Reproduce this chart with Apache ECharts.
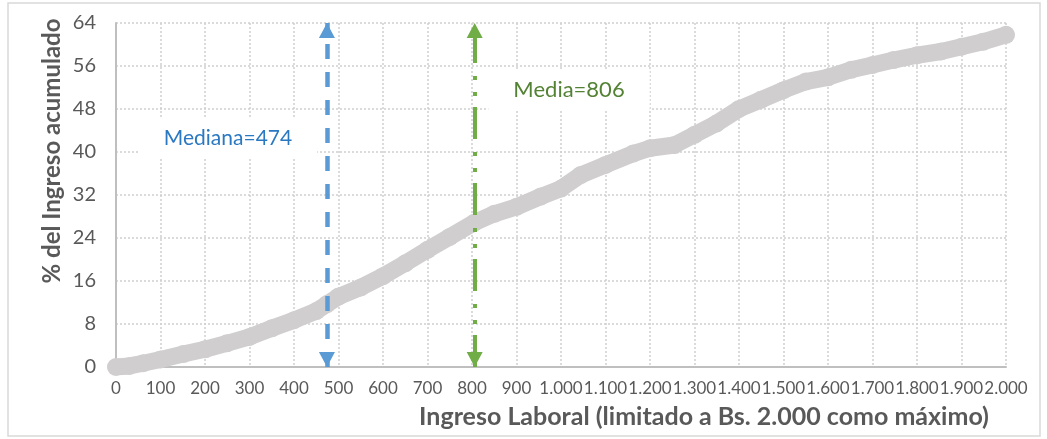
<!DOCTYPE html>
<html>
<head>
<meta charset="utf-8">
<script src="https://cdn.jsdelivr.net/npm/echarts@6/dist/echarts.min.js"></script>
<style>
html, body { margin: 0; padding: 0; background: #fff; }
#main { width: 1047px; height: 439px; }
</style>
</head>
<body>
<div id="main"></div>
<script>
// ingreso laboral (Bs.) y % del ingreso acumulado
var ingreso = [0, 30, 61, 100, 151, 200, 249, 300, 350, 400, 450, 474, 500, 550, 600, 650, 700, 750, 806, 850, 900, 954, 1000, 1044, 1100, 1162, 1200, 1255, 1300, 1349, 1400, 1449, 1500, 1550, 1600, 1652, 1700, 1747, 1800, 1854, 1900, 1948, 2000];
var porcentaje = [0, 0.2, 0.7, 1.4, 2.4, 3.3, 4.4, 5.6, 7.2, 8.7, 10.4, 11.7, 13.1, 14.8, 16.9, 19.3, 21.8, 24.2, 26.9, 28.5, 29.8, 31.7, 33.2, 35.7, 37.6, 39.7, 40.7, 41.3, 43.2, 45.3, 48.0, 49.7, 51.5, 53.1, 53.9, 55.3, 56.2, 57.1, 58.0, 58.7, 59.6, 60.5, 61.8];
var mediana = 474;
var media = 806;
var yMax = 64;

var puntos = ingreso.map(function (x, i) { return [x, porcentaje[i]]; });

function fmtMiles(v) {
  if (v < 1000) return String(v);
  var m = Math.floor(v / 1000);
  var r = String(v % 1000);
  while (r.length < 3) r = '0' + r;
  return m + '.' + r;
}

// punta de flecha: la mitad exterior del simbolo queda vacia para que la punta caiga en el extremo
var punta = 'path://M8,0L8.01,0L8,0.01Z M8,15L16,30L0,30Z';

var chart = echarts.init(document.getElementById('main'));
var fuente = 'Lato';
var gris = '#595959';

var option = {
  backgroundColor: '#fff',
  animation: false,
  grid: { left: 116, right: 41, top: 23, bottom: 72 },
  xAxis: {
    type: 'value',
    min: 0,
    max: 2000,
    interval: 100,
    axisLine: { show: true, lineStyle: { color: '#bfbfbf', width: 2 } },
    axisTick: { show: false },
    axisLabel: {
      color: gris, fontFamily: fuente, fontSize: 17, margin: 13,
      formatter: fmtMiles
    },
    splitLine: { show: true, lineStyle: { color: '#d0d0d0', width: 1.5, type: [2, 2] } }
  },
  yAxis: {
    type: 'value',
    min: 0,
    max: yMax,
    interval: 8,
    axisLine: { show: true, lineStyle: { color: '#bfbfbf', width: 2 } },
    axisTick: { show: false },
    axisLabel: { color: gris, fontFamily: fuente, fontSize: 20, margin: 20 },
    splitLine: { show: true, lineStyle: { color: '#d0d0d0', width: 1.5, type: [2, 2] } }
  },
  graphic: [
    {
      type: 'rect', z: -10, silent: true,
      shape: { x: 8, y: 3, width: 1032, height: 433 },
      style: { fill: 'none', stroke: '#d9d9d9', lineWidth: 1.5 }
    },
    {
      type: 'text', x: 52, y: 151, rotation: Math.PI / 2,
      style: {
        text: '% del Ingreso acumulado', fill: gris, font: 'bold 24px Lato',
        textAlign: 'center', textVerticalAlign: 'middle'
      }
    },
    {
      type: 'text', x: 704, y: 417,
      style: {
        text: 'Ingreso Laboral (limitado a Bs. 2.000 como máximo)', fill: gris,
        font: 'bold 25px Lato', textAlign: 'center', textVerticalAlign: 'middle'
      }
    },
    {
      type: 'text', x: 228, y: 138, z: 5,
      style: {
        text: 'Mediana=474', fill: '#2a78c2', font: '21px Lato',
        textAlign: 'center', textVerticalAlign: 'middle',
        backgroundColor: '#fff', padding: [10, 25]
      }
    },
    {
      type: 'text', x: 569, y: 90, z: 5,
      style: {
        text: 'Media=806', fill: '#548235', font: '22px Lato',
        textAlign: 'center', textVerticalAlign: 'middle',
        backgroundColor: '#fff', padding: [10, 25]
      }
    }
  ],
  series: [
    {
      type: 'line',
      data: puntos,
      z: 3,
      smooth: false,
      showAllSymbol: true,
      symbol: 'circle',
      symbolSize: 18,
      itemStyle: { color: '#d0cece' },
      lineStyle: { color: '#d0cece', width: 17, cap: 'round', join: 'round' },
      markLine: {
        silent: true,
        z: 6,
        symbol: [punta, punta],
        symbolSize: [16, 30],
        label: { show: false },
        data: [
          [
            { coord: [mediana, 0], lineStyle: { color: '#5b9bd5', width: 4.5, type: [15, 13] } },
            { coord: [mediana, yMax] }
          ],
          [
            { coord: [media, 0], lineStyle: { color: '#70ad47', width: 4, type: [32, 11, 4, 12, 4, 13] } },
            { coord: [media, yMax] }
          ]
        ]
      }
    }
  ]
};

chart.setOption(option);
</script>
</body>
</html>
